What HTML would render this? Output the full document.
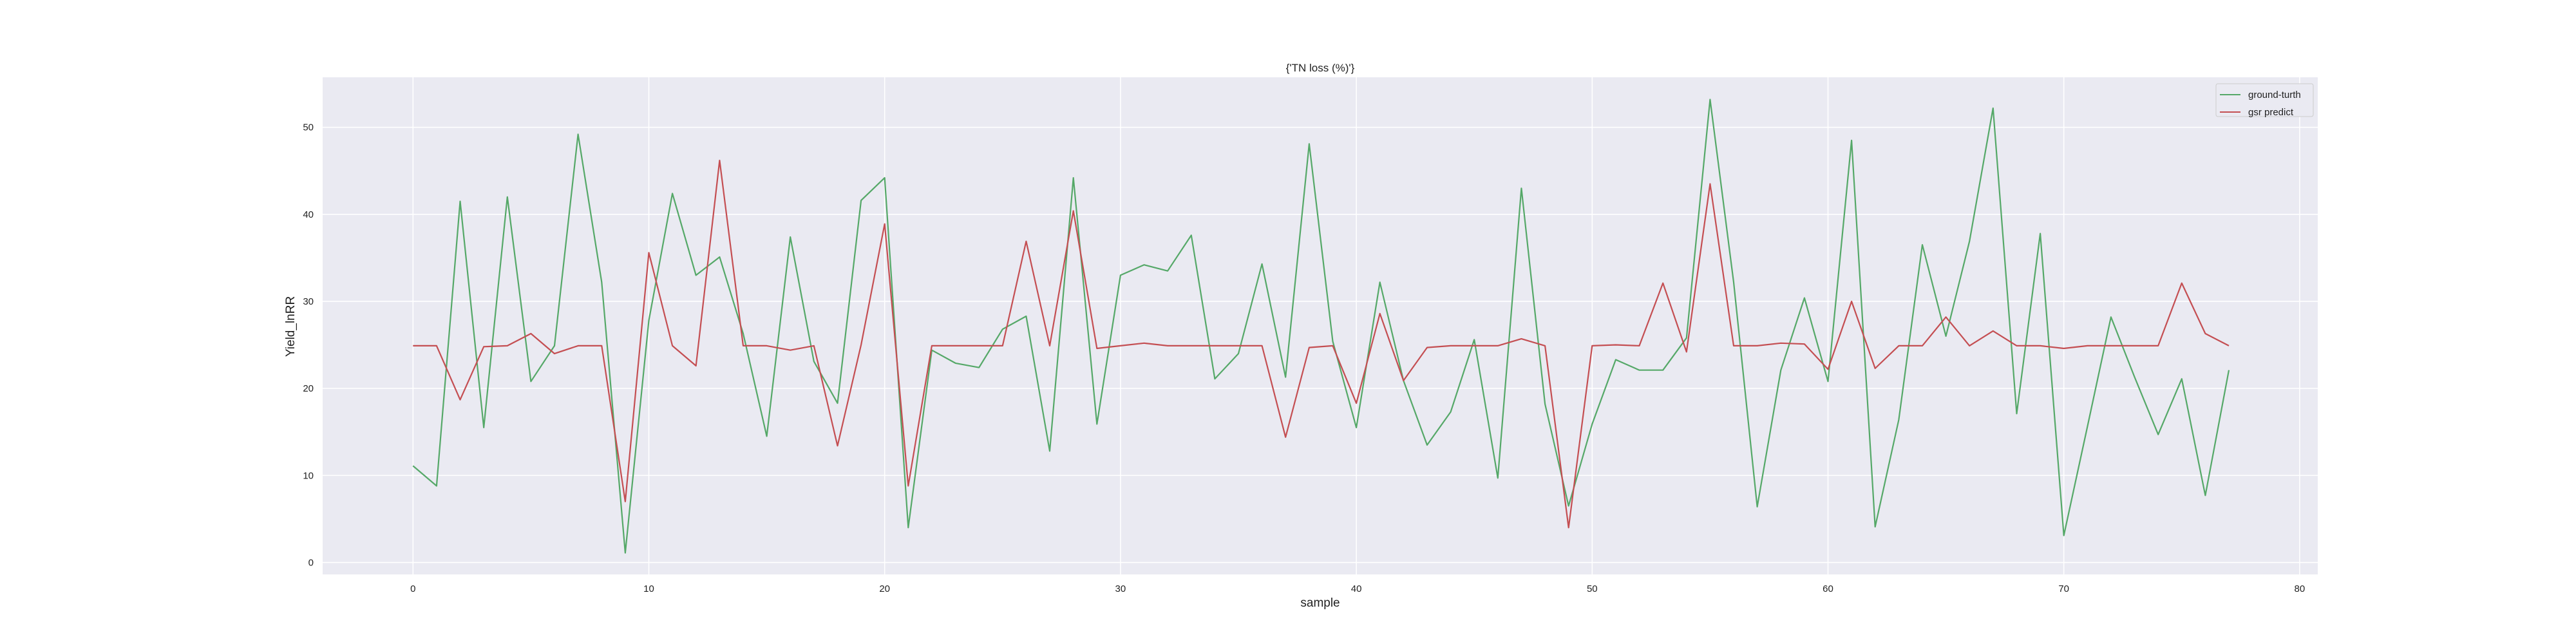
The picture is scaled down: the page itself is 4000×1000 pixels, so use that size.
<!DOCTYPE html>
<html><head><meta charset="utf-8">
<style>
html,body{margin:0;padding:0;background:#fff;}
svg{display:block;font-family:"Liberation Sans",sans-serif;}
</style></head>
<body>
<svg id="chart" width="4000" height="1000" viewBox="0 0 4000 1000" xmlns="http://www.w3.org/2000/svg">
<rect x="501" y="120" width="3098" height="772" fill="#eaeaf2"/>
<g id="grid"></g>
<g id="ticks"></g>
<g id="series"></g>
<text x="2050" y="111" font-size="17" fill="#222" text-anchor="middle">{'TN loss (%)'}</text>
<text x="2050" y="942" font-size="19" fill="#222" text-anchor="middle">sample</text>
<text x="457" y="507" font-size="19" fill="#222" text-anchor="middle" transform="rotate(-90 457 507)">Yield_lnRR</text>
<g>
<rect x="3441" y="130" width="151" height="51" rx="3" fill="#eaeaf2" stroke="#cccccc" stroke-width="1"/>
<line x1="3447" y1="147" x2="3479" y2="147" stroke="#55a868" stroke-width="2"/>
<text x="3491" y="152" font-size="15" fill="#222">ground-turth</text>
<line x1="3447" y1="174" x2="3479" y2="174" stroke="#c44e52" stroke-width="2"/>
<text x="3491" y="179" font-size="15" fill="#222">gsr predict</text>
</g>
</svg>
<script>
const groundTruth = [11.1,8.8,41.5,15.5,42.0,20.8,24.9,49.2,32.2,1.1,27.8,42.4,33.0,35.1,26.3,14.5,37.4,23.1,18.3,41.6,44.2,4.0,24.4,22.9,22.4,26.8,28.3,12.8,44.2,15.9,33.0,34.2,33.5,37.6,21.1,24.0,34.3,21.3,48.1,25.4,15.5,32.2,20.9,13.5,17.3,25.6,9.7,43.0,18.2,6.5,15.9,23.3,22.1,22.1,25.8,53.2,32.2,6.4,22.1,30.4,20.8,48.5,4.1,16.4,36.5,26.0,36.9,52.2,17.1,37.8,3.1,15.6,28.2,21.3,14.7,21.1,7.7,22.1];
const gsrPredict = [24.9,24.9,18.7,24.8,24.9,26.3,24.0,24.9,24.9,7.0,35.6,24.9,22.6,46.2,24.9,24.9,24.4,24.9,13.4,25.0,38.9,8.8,24.9,24.9,24.9,24.9,36.9,24.9,40.4,24.6,24.9,25.2,24.9,24.9,24.9,24.9,24.9,14.4,24.7,24.9,18.3,28.6,20.9,24.7,24.9,24.9,24.9,25.7,24.9,4.0,24.9,25.0,24.9,32.1,24.2,43.5,24.9,24.9,25.2,25.1,22.2,30.0,22.3,24.9,24.9,28.2,24.9,26.6,24.9,24.9,24.6,24.9,24.9,24.9,24.9,32.1,26.3,24.9];
const xTicks = [0,10,20,30,40,50,60,70,80];
const yTicks = [0,10,20,30,40,50];

const NS = "http://www.w3.org/2000/svg";
function xs(v){ return 641.3 + 36.62 * v; }
function ys(v){ return 873.4 - 13.514 * v; }
function mk(tag, attrs, parent){
  const e = document.createElementNS(NS, tag);
  for (const k in attrs) e.setAttribute(k, attrs[k]);
  parent.appendChild(e);
  return e;
}
const grid = document.getElementById('grid');
const ticks = document.getElementById('ticks');
xTicks.forEach(t => {
  const l = mk('line', {x1: xs(t), x2: xs(t), y1: 120, y2: 892, stroke: '#fff', 'stroke-width': 1.6}, grid);
  
  
  const tx = mk('text', {x: xs(t), y: 919, 'font-size': 15, fill: '#222', 'text-anchor': 'middle'}, ticks);
  tx.textContent = t;
  
  
});
yTicks.forEach(t => {
  const l = mk('line', {x1: 501, x2: 3599, y1: ys(t), y2: ys(t), stroke: '#fff', 'stroke-width': 1.6}, grid);
  
  
  const tx = mk('text', {x: 487, y: ys(t) + 5, 'font-size': 15, fill: '#222', 'text-anchor': 'end'}, ticks);
  tx.textContent = t;
  
  
});
const series = document.getElementById('series');
function pts(arr){ return arr.map((v, i) => xs(i).toFixed(1) + ',' + ys(v).toFixed(1)).join(' '); }
const g1 = mk('polyline', {points: pts(groundTruth), fill: 'none', stroke: '#55a868', 'stroke-width': 2.2, 'stroke-linejoin': 'round'}, series);


const g2 = mk('polyline', {points: pts(gsrPredict), fill: 'none', stroke: '#c44e52', 'stroke-width': 2.2, 'stroke-linejoin': 'round'}, series);


</script>
</body></html>
